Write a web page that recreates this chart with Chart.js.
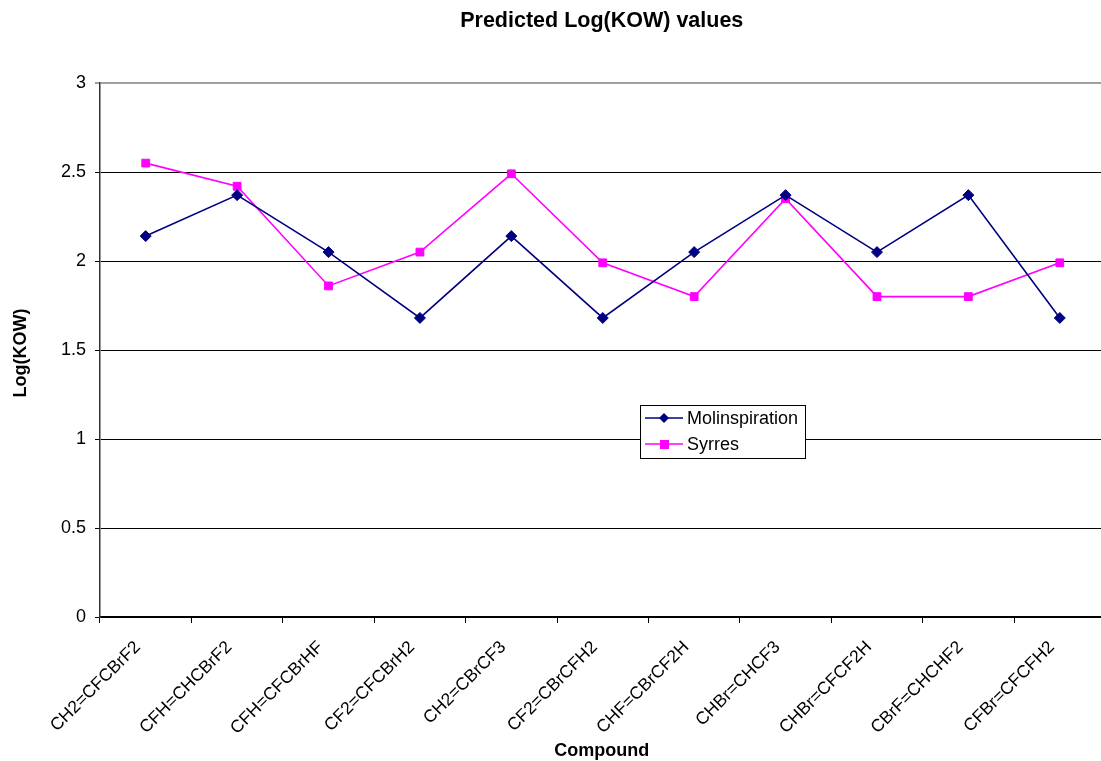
<!DOCTYPE html>
<html>
<head>
<meta charset="utf-8">
<script src="https://cdn.jsdelivr.net/npm/chart.js@4.4.1/dist/chart.umd.min.js"></script>
<style>
  html, body { margin: 0; padding: 0; background: #fff; overflow: hidden; }
  #wrap { position: relative; width: 1112px; height: 761px; }
</style>
</head>
<body>
<div id="wrap"><canvas id="c"></canvas></div>
<script>
const compounds = [
  'CH2=CFCBrF2', 'CFH=CHCBrF2', 'CFH=CFCBrHF', 'CF2=CFCBrH2', 'CH2=CBrCF3',
  'CF2=CBrCFH2', 'CHF=CBrCF2H', 'CHBr=CHCF3', 'CHBr=CFCF2H', 'CBrF=CHCHF2', 'CFBr=CFCFH2'
];
const molinspiration = [2.14, 2.37, 2.05, 1.68, 2.14, 1.68, 2.05, 2.37, 2.05, 2.37, 1.68];
const syrres = [2.55, 2.42, 1.86, 2.05, 2.49, 1.99, 1.80, 2.35, 1.80, 1.80, 1.99];
const yTicks = [0, 0.5, 1, 1.5, 2, 2.5, 3];

const FONT = '"Liberation Sans", Arial, sans-serif';

// Titles and the boxed legend, painted on top of the plot
const decorations = {
  id: 'decorations',
  afterDraw(chart) {
    const ctx = chart.ctx;
    const a = chart.chartArea;
    const cx = (a.left + a.right) / 2;
    ctx.save();
    ctx.fillStyle = '#000';
    ctx.font = 'bold 21.5px ' + FONT;
    ctx.textAlign = 'center';
    ctx.textBaseline = 'middle';
    ctx.fillText('Predicted Log(KOW) values', cx - 1, 21);

    ctx.font = 'bold 18px ' + FONT;
    ctx.fillText('Compound', cx - 1, 751);

    ctx.save();
    ctx.translate(21, (a.top + a.bottom) / 2 + 3);
    ctx.rotate(-Math.PI / 2);
    ctx.fillText('Log(KOW)', 0, 0);
    ctx.restore();

    // legend box
    const lx = 640, ly = 405, lw = 165, lh = 53;
    ctx.fillStyle = '#fff';
    ctx.fillRect(lx, ly, lw, lh);
    ctx.strokeStyle = '#000';
    ctx.lineWidth = 1;
    ctx.strokeRect(lx + 0.5, ly + 0.5, lw, lh);

    const rows = [
      { label: 'Molinspiration', color: '#000080', shape: 'diamond', y: ly + 13 },
      { label: 'Syrres', color: '#FF00FF', shape: 'square', y: ly + 39 }
    ];
    rows.forEach(r => {
      ctx.strokeStyle = r.color;
      ctx.lineWidth = 1.5;
      ctx.beginPath();
      ctx.moveTo(lx + 5, r.y);
      ctx.lineTo(lx + 43, r.y);
      ctx.stroke();
      ctx.fillStyle = r.color;
      const mx = lx + 24;
      if (r.shape === 'diamond') {
        ctx.beginPath();
        ctx.moveTo(mx, r.y - 5);
        ctx.lineTo(mx + 5, r.y);
        ctx.lineTo(mx, r.y + 5);
        ctx.lineTo(mx - 5, r.y);
        ctx.closePath();
        ctx.fill();
      } else {
        ctx.fillRect(mx - 4, r.y - 4, 9, 9);
      }
      ctx.fillStyle = '#000';
      ctx.font = '18px ' + FONT;
      ctx.textAlign = 'left';
      ctx.textBaseline = 'middle';
      ctx.fillText(r.label, lx + 47, r.y + 1);
    });
    ctx.restore();
  }
};

new Chart(document.getElementById('c'), {
  type: 'line',
  data: {
    labels: compounds,
    datasets: [
      {
        label: 'Molinspiration',
        data: molinspiration,
        borderColor: '#000080',
        backgroundColor: '#000080',
        borderWidth: 1.6,
        pointStyle: 'rectRot',
        pointRadius: 5.5,
        pointBorderWidth: 1,
        tension: 0
      },
      {
        label: 'Syrres',
        data: syrres,
        borderColor: '#FF00FF',
        backgroundColor: '#FF00FF',
        borderWidth: 1.6,
        pointStyle: 'rect',
        pointRadius: 5.5,
        pointBorderWidth: 1,
        tension: 0
      }
    ]
  },
  options: {
    responsive: true,
    maintainAspectRatio: false,
    animation: false,
    layout: { padding: { top: 83, left: 0, right: 0, bottom: 0 } },
    plugins: {
      legend: { display: false },
      title: { display: false },
      tooltip: { enabled: false }
    },
    scales: {
      x: {
        offset: true,
        grid: {
          display: true,
          offset: true,
          drawOnChartArea: false,
          drawTicks: true,
          tickLength: 6,
          color: '#000'
        },
        border: { display: true, color: '#000', width: 1.5 },
        ticks: {
          color: '#000',
          font: { family: FONT, size: 17.5 },
          minRotation: 45,
          maxRotation: 45,
          autoSkip: false,
          padding: 14,
          labelOffset: -8
        },
        afterFit(scale) { scale.height = 144; }
      },
      y: {
        min: 0,
        max: 3,
        afterBuildTicks(scale) { scale.ticks = yTicks.map(v => ({ value: v })); },
        grid: {
          color: (c) => c.tick && c.tick.value === 3 ? '#a0a0a0' : '#000',
          lineWidth: (c) => c.tick && c.tick.value === 3 ? 2 : 1,
          drawTicks: true,
          tickLength: 5
        },
        border: { display: true, color: '#333', width: 1.5 },
        ticks: {
          color: '#000',
          font: { family: FONT, size: 18 },
          padding: 9,
          callback: (v) => String(v)
        },
        afterFit(scale) { scale.width = 100; }
      }
    }
  },
  plugins: [decorations]
});
</script>
</body>
</html>
